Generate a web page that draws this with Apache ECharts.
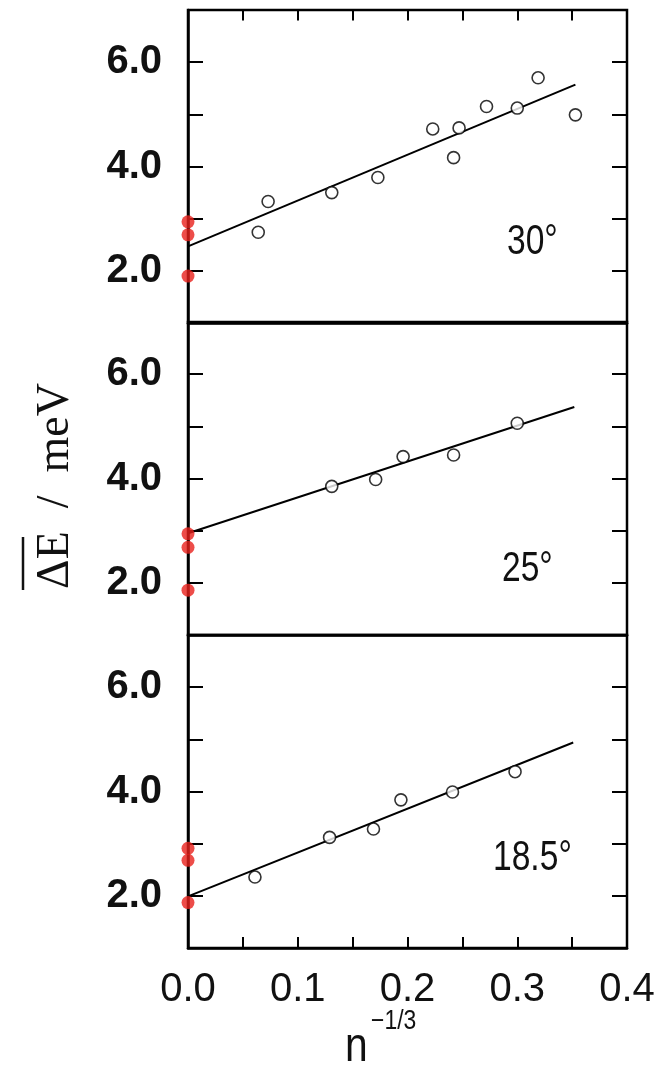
<!DOCTYPE html>
<html>
<head>
<meta charset="utf-8">
<script src="https://cdn.jsdelivr.net/npm/echarts@6/dist/echarts.min.js"></script>
<style>html,body{margin:0;padding:0;background:#fff}#c{width:657px;height:1066px}</style>
</head>
<body>
<div id="c"></div>
<script>
// ---- data ----
var panelLabels = ['30°', '25°', '18.5°'];
var pts30 = [[0.064,2.74],[0.073,3.33],[0.131,3.50],[0.173,3.79],[0.223,4.72],[0.242,4.17],[0.247,4.74],[0.272,5.15],[0.300,5.12],[0.319,5.70],[0.353,4.99]];
var pts25 = [[0.131,3.85],[0.171,3.98],[0.196,4.42],[0.242,4.45],[0.300,5.06]];
var pts185 = [[0.061,2.36],[0.129,3.12],[0.169,3.28],[0.194,3.84],[0.241,3.99],[0.298,4.38]];
var fit30 = [[0,2.47],[0.353,5.57]];
var fit25 = [[0,2.95],[0.352,5.37]];
var fit185 = [[0,1.99],[0.351,4.94]];
var red30 = [[0,2.94],[0,2.69],[0,1.90]];
var red25 = [[0,2.94],[0,2.68],[0,1.86]];
var red185 = [[0,2.91],[0,2.68],[0,1.87]];
var xTicks = {min:0, max:0.4, step:0.05};
var yTicks = {min:1, max:7, step:1};
var topTickValues = [0.05, 0.10, 0.15, 0.20, 0.25, 0.30, 0.35];

var pts = [pts30, pts25, pts185];
var fits = [fit30, fit25, fit185];
var reds = [red30, red25, red185];

var SANS = "'Liberation Sans', Arial, sans-serif";
var chart = echarts.init(document.getElementById('c'));
var L = 188, R = 30, W = 657 - L - R;
var tops = [10, 322, 635];
var h = 313;
var grids = [], xAxes = [], yAxes = [], series = [];
function xAx(i, pos, off, tick, label) {
  return {type:'value', gridIndex:i, position:pos, offset:off, min:xTicks.min, max:xTicks.max, interval:xTicks.step,
    axisLine:{show:off===0, onZero:false, lineStyle:{color:'#000', width:2.5}},
    axisTick:{show:tick, inside:false, length:11, lineStyle:{color:'#000', width:2}},
    splitLine:{show:false},
    axisLabel:{show:label, margin:22, fontSize:40, fontFamily:SANS, color:'#111', hideOverlap:false,
      formatter:function(v){var t=v*10; return Math.abs(t-Math.round(t))<1e-6 ? v.toFixed(1) : '';}}
  };
}
function yAx(i, pos, off, tick, label) {
  return {type:'value', gridIndex:i, position:pos, offset:off, min:yTicks.min, max:yTicks.max, interval:yTicks.step,
    axisLine:{show:off===0, onZero:false, lineStyle:{color:'#000', width:2.5}},
    axisTick:{show:tick, inside:false, length:15, lineStyle:{color:'#000', width:2}},
    splitLine:{show:false},
    axisLabel:{show:label, margin:26, fontSize:40, fontWeight:'bold', fontFamily:SANS, color:'#111', hideOverlap:false,
      formatter:function(v){return (v%2===0) ? v.toFixed(1) : '';}}
  };
}
for (var i = 0; i < 3; i++) {
  grids.push({left:L, right:R, top:tops[i], height:h, containLabel:false, outerBoundsMode:'none',
    show:true, borderColor:'#000', borderWidth:2.5, backgroundColor:'transparent'});
  var base = xAxes.length, ybase = yAxes.length;
  xAxes.push(xAx(i, 'bottom', 0, false, i===2));      // data axis (labels on the lowest panel)
  xAxes.push(xAx(i, 'top', -h, i===2, false));        // placed on the bottom edge, ticks point up (inward)
  yAxes.push(yAx(i, 'left', 0, false, true));         // main y axis with labels
  yAxes.push(yAx(i, 'right', -W, true, false));       // sits at left edge, ticks point right (inward)
  yAxes.push(yAx(i, 'left', -W, true, false));        // sits at right edge, ticks point left (inward)
  series.push({type:'line', xAxisIndex:base, yAxisIndex:ybase, data:fits[i], symbol:'none', lineStyle:{color:'#000', width:2}, z:3, silent:true,
    markLine: i === 0 ? {
      silent:true, symbol:['none','none'], animation:false, label:{show:false},
      lineStyle:{color:'#000', width:2, type:'solid'},
      data: topTickValues.map(function(v){ return [{coord:[v, yTicks.max]}, {coord:[v, yTicks.max - 0.2]}]; })
    } : undefined});
  series.push({type:'scatter', xAxisIndex:base, yAxisIndex:ybase, data:pts[i], symbol:'circle', symbolSize:12,
    itemStyle:{color:'#fff', borderColor:'#000', borderWidth:1.6}, z:4});
  series.push({type:'scatter', xAxisIndex:base, yAxisIndex:ybase, data:reds[i], symbol:'circle', symbolSize:13, clip:false,
    itemStyle:{color:'#e8201c', borderWidth:0}, z:5});
}

var labelPos = [[507,242],[502,569],[493,858]];
var graphics = [];
for (var j = 0; j < 3; j++) {
  graphics.push({type:'text', x:labelPos[j][0], y:labelPos[j][1], scaleX:0.8, z:10,
    style:{text:panelLabels[j], fontSize:42, fontFamily:SANS, fill:'#111', textAlign:'left', textVerticalAlign:'middle'}});
}
// y axis title
graphics.push({type:'text', x:56, y:486, rotation:Math.PI/2, z:10,
  style:{text:'ΔE  /  meV', fontSize:46, fontFamily:'Liberation Serif', fill:'#111', textAlign:'center', textVerticalAlign:'middle'}});
graphics.push({type:'line', z:10, shape:{x1:23, y1:537, x2:23, y2:590}, style:{stroke:'#111', lineWidth:2.5}});
// x axis title
graphics.push({type:'text', x:345, y:1048, scaleX:0.85, z:10,
  style:{text:'n', fontSize:48, fontFamily:SANS, fill:'#111', textAlign:'left', textVerticalAlign:'middle'}});
graphics.push({type:'text', x:371, y:1022, scaleX:0.85, z:10,
  style:{text:'−1/3', fontSize:27, fontFamily:SANS, fill:'#111', textAlign:'left', textVerticalAlign:'middle'}});

chart.setOption({
  animation:false,
  backgroundColor:'#fff',
  grid:grids, xAxis:xAxes, yAxis:yAxes, series:series, graphic:graphics
});
</script>
</body>
</html>
